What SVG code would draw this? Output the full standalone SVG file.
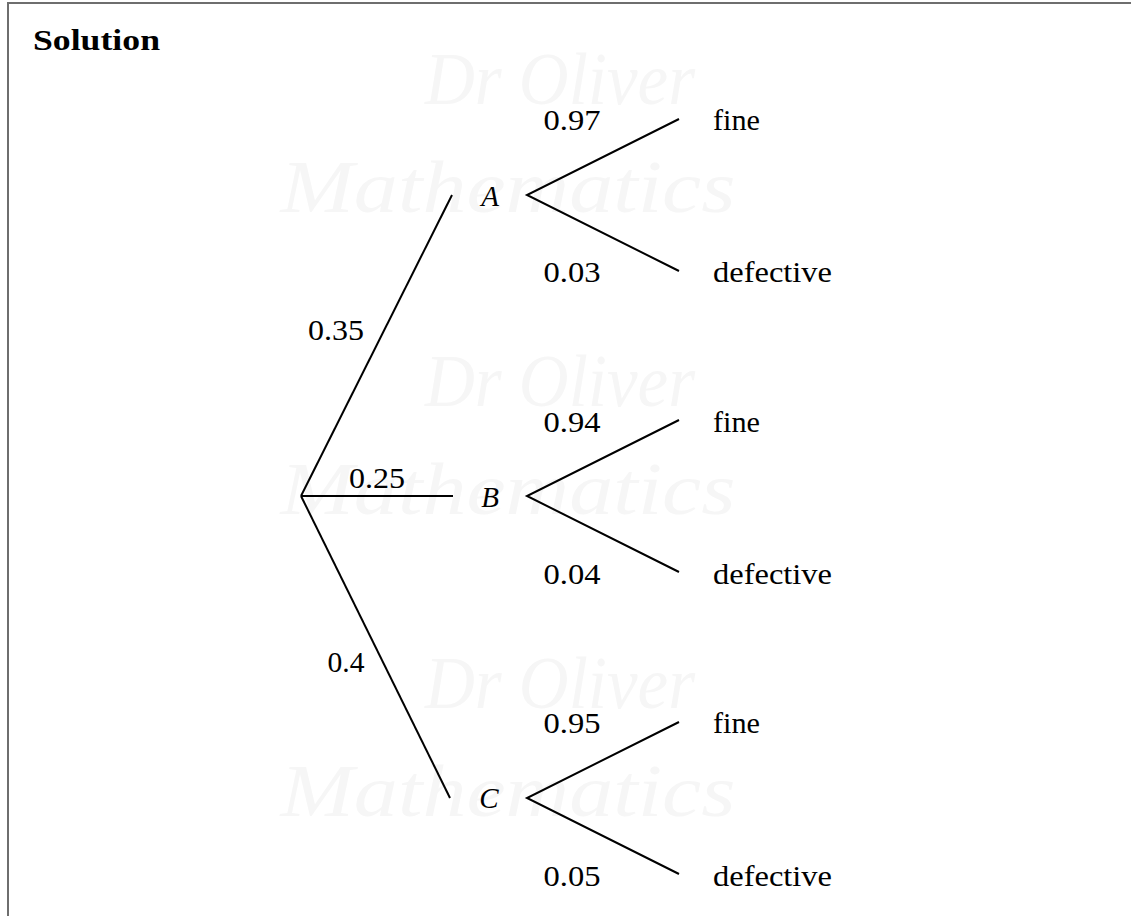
<svg xmlns="http://www.w3.org/2000/svg" width="1131" height="916" viewBox="0 0 1131 916">
  <style>
    .frame { fill: none; stroke: #6e6e6e; stroke-width: 2; }
    .edge { stroke: #000; stroke-width: 2; fill: none; stroke-linecap: butt; }
    .num { font-family: "Liberation Serif", serif; font-size: 29px; fill: #000; text-anchor: middle; }
    .out { font-family: "Liberation Serif", serif; font-size: 29px; fill: #000; }
    .var { font-family: "Liberation Serif", serif; font-style: italic; font-size: 29px; fill: #000; text-anchor: middle; }
    .title { font-family: "Liberation Serif", serif; font-weight: bold; font-size: 29px; fill: #000; }
    .wm { font-family: "Liberation Serif", serif; font-style: italic; font-size: 74px; fill: #f6f6f6; text-anchor: middle; }
  </style>
  <rect width="1131" height="916" fill="#fff"/>

  <!-- faint background lettering -->
  <g id="watermark">
    <text class="wm" x="560" y="104" textLength="270" lengthAdjust="spacingAndGlyphs">Dr Oliver</text>
    <text class="wm" x="508" y="212" textLength="455" lengthAdjust="spacingAndGlyphs">Mathematics</text>
    <text class="wm" x="560" y="406" textLength="270" lengthAdjust="spacingAndGlyphs">Dr Oliver</text>
    <text class="wm" x="508" y="514" textLength="455" lengthAdjust="spacingAndGlyphs">Mathematics</text>
    <text class="wm" x="560" y="708" textLength="270" lengthAdjust="spacingAndGlyphs">Dr Oliver</text>
    <text class="wm" x="508" y="816" textLength="455" lengthAdjust="spacingAndGlyphs">Mathematics</text>
  </g>

  <!-- open frame: top and left rules -->
  <path class="frame" d="M8 916 V3 H1131"/>
  <text class="title" x="33" y="50" textLength="127" lengthAdjust="spacingAndGlyphs">Solution</text>

  <!-- branches -->
  <g id="connectors">
    <line class="edge" x1="301" y1="496" x2="452" y2="195"/>
    <line class="edge" x1="301" y1="496" x2="453" y2="496"/>
    <line class="edge" x1="301" y1="496" x2="450" y2="798"/>
    <polyline class="edge" points="679,119 527,195 679,271"/>
    <polyline class="edge" points="679,420 527,496 679,572"/>
    <polyline class="edge" points="679,722 527,798 679,874"/>
  </g>

  <!-- first-stage probabilities -->
  <g id="p-first">
    <text class="num" x="336" y="340" textLength="56" lengthAdjust="spacingAndGlyphs">0.35</text>
    <text class="num" x="377" y="488" textLength="56" lengthAdjust="spacingAndGlyphs">0.25</text>
    <text class="num" x="346" y="672" textLength="37" lengthAdjust="spacingAndGlyphs">0.4</text>
  </g>

  <g id="node-A">
    <text class="var" x="490" y="206">A</text>
    <text class="num" x="572" y="130" textLength="57" lengthAdjust="spacingAndGlyphs">0.97</text>
    <text class="num" x="572" y="282" textLength="57" lengthAdjust="spacingAndGlyphs">0.03</text>
    <text class="out" x="713" y="130" textLength="47" lengthAdjust="spacingAndGlyphs">fine</text>
    <text class="out" x="713" y="282" textLength="119" lengthAdjust="spacingAndGlyphs">defective</text>
  </g>

  <g id="node-B">
    <text class="var" x="490" y="507">B</text>
    <text class="num" x="572" y="432" textLength="57" lengthAdjust="spacingAndGlyphs">0.94</text>
    <text class="num" x="572" y="584" textLength="57" lengthAdjust="spacingAndGlyphs">0.04</text>
    <text class="out" x="713" y="432" textLength="47" lengthAdjust="spacingAndGlyphs">fine</text>
    <text class="out" x="713" y="584" textLength="119" lengthAdjust="spacingAndGlyphs">defective</text>
  </g>

  <g id="node-C">
    <text class="var" x="489" y="808">C</text>
    <text class="num" x="572" y="733" textLength="57" lengthAdjust="spacingAndGlyphs">0.95</text>
    <text class="num" x="572" y="886" textLength="57" lengthAdjust="spacingAndGlyphs">0.05</text>
    <text class="out" x="713" y="733" textLength="47" lengthAdjust="spacingAndGlyphs">fine</text>
    <text class="out" x="713" y="886" textLength="119" lengthAdjust="spacingAndGlyphs">defective</text>
  </g>
</svg>
